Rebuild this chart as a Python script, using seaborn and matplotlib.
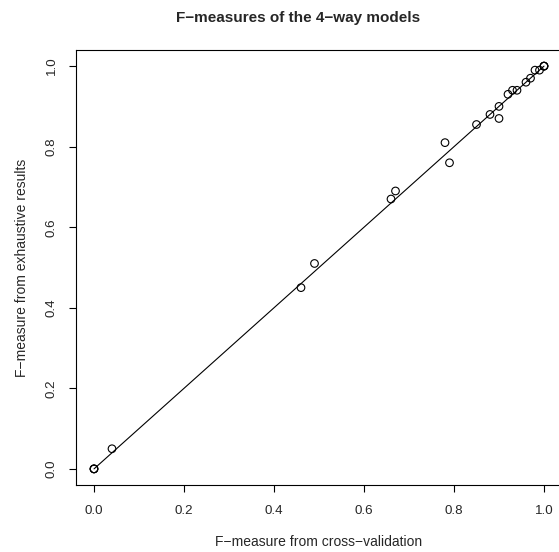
import numpy as np
import pandas as pd
import seaborn as sns
import matplotlib
matplotlib.use('Agg')
import matplotlib.pyplot as plt

# F-measures

cv_fmeasure = [0.0, 0.0, 0.0, 0.04, 0.46, 0.49, 0.66, 0.67, 0.78, 0.79,
               0.85, 0.88, 0.90, 0.90, 0.92, 0.93, 0.94, 0.96, 0.97,
               0.98, 0.99, 1.0, 1.0, 1.0]
exh_fmeasure = [0.0, 0.0, 0.0, 0.05, 0.45, 0.51, 0.67, 0.69, 0.81, 0.76,
                0.855, 0.88, 0.90, 0.87, 0.93, 0.94, 0.94, 0.96, 0.97,
                0.99, 0.99, 1.0, 1.0, 1.0]
line_x = [0.0, 1.0]
line_y = [0.0, 1.0]
tick_values = [0.0, 0.2, 0.4, 0.6, 0.8, 1.0]
tick_labels = ['0.0', '0.2', '0.4', '0.6', '0.8', '1.0']

points = pd.DataFrame({'cv': cv_fmeasure, 'exh': exh_fmeasure})
diag = pd.DataFrame({'x': line_x, 'y': line_y})

sns.set_style('white')
plt.rcParams['font.family'] = ['Liberation Sans', 'DejaVu Sans']

fig = plt.figure(figsize=(5.59, 5.52), dpi=100)
ax = fig.add_axes([76/559, 67/552, 486/559, 435/552])

sns.lineplot(data=diag, x='x', y='y', color='black', linewidth=0.8, ax=ax)
sns.scatterplot(data=points, x='cv', y='exh', marker='o', s=30,
                facecolors='none', edgecolor='black', linewidth=0.8, ax=ax)

ax.set_xlim(-0.04, 1.04)
ax.set_ylim(-0.04, 1.04)
ax.set_xticks(tick_values)
ax.set_xticklabels(tick_labels)
ax.set_yticks(tick_values)
ax.set_yticklabels(tick_labels, rotation=90, va='center')
ax.tick_params(axis='both', direction='out', length=5, width=0.8,
               color='black', labelsize=9.6, bottom=True, left=True)
ax.tick_params(axis='x', pad=9.5)
ax.tick_params(axis='y', pad=8)
for sp in ax.spines.values():
    sp.set_color('black')
    sp.set_linewidth(0.8)

ax.set_xlabel('F\u2212measure from cross\u2212validation', fontsize=10, labelpad=13)
ax.set_ylabel('F\u2212measure from exhaustive results', fontsize=10, labelpad=12)

fig.text(298/559, 1 - 18/552, 'F\u2212measures of the 4\u2212way models',
         ha='center', va='center', fontsize=11, fontweight='bold')

fig.savefig('out.png', dpi=100)
